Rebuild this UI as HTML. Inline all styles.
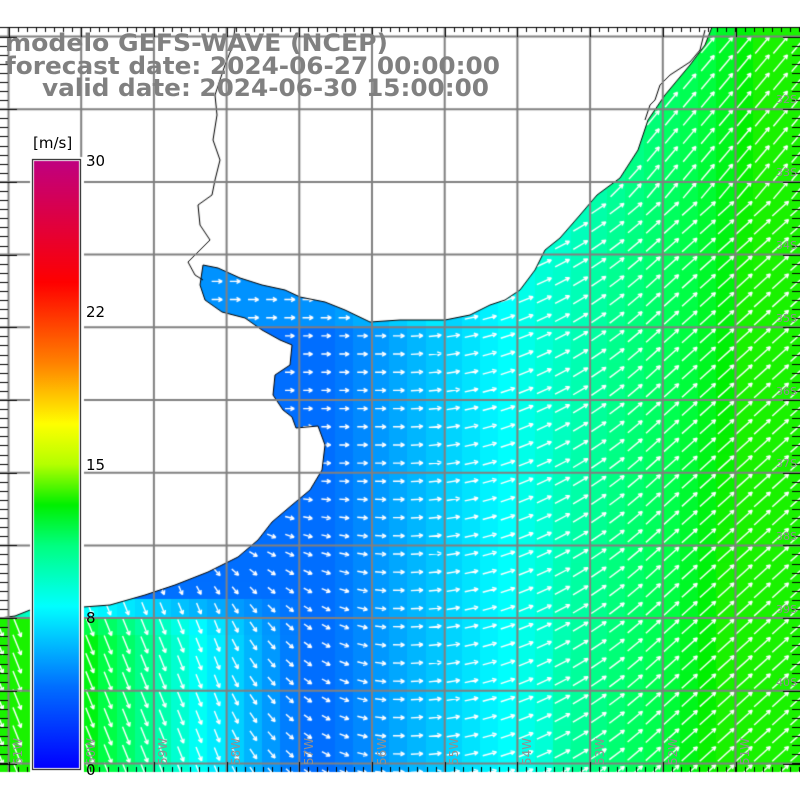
<!DOCTYPE html>
<html><head><meta charset="utf-8"><style>
html,body{margin:0;padding:0;background:#fff;width:800px;height:800px;overflow:hidden}
#c{position:absolute;left:0;top:0}
svg{position:absolute;left:0;top:0}
</style></head><body>
<canvas id="c" width="800" height="800"></canvas>
<svg width="800" height="800" xmlns="http://www.w3.org/2000/svg">
<g font-family="DejaVu Sans, Liberation Sans, sans-serif" font-weight="bold" fill="#808080" font-size="24">
<text x="5" y="51" textLength="383" lengthAdjust="spacingAndGlyphs">modelo GEFS-WAVE (NCEP)</text>
<text x="5" y="74" textLength="495" lengthAdjust="spacingAndGlyphs">forecast date: 2024-06-27 00:00:00</text>
<text x="42" y="96" textLength="447" lengthAdjust="spacingAndGlyphs">valid date: 2024-06-30 15:00:00</text>
</g>
<g font-family="DejaVu Sans, Liberation Sans, sans-serif" font-size="15" fill="#000">
<text x="33" y="148">[m/s]</text>
<text x="86" y="166">30</text>
<text x="86" y="317">22</text>
<text x="86" y="470">15</text>
<text x="86" y="623">8</text>
<text x="86" y="775">0</text>
</g>
<g font-family="DejaVu Sans, sans-serif" font-size="11" fill="#909090">
<text x="776" y="103">32S</text><text x="776" y="176">33S</text><text x="776" y="249">34S</text>
<text x="776" y="322">35S</text><text x="776" y="395">36S</text><text x="776" y="467">37S</text>
<text x="776" y="540">38S</text><text x="776" y="613">39S</text><text x="776" y="686">40S</text>
</g>
<g font-family="DejaVu Sans, sans-serif" font-size="12" fill="#909090">
<text transform="translate(22,765) rotate(-90)">61W</text>
<text transform="translate(95,765) rotate(-90)">60W</text>
<text transform="translate(167,765) rotate(-90)">59W</text>
<text transform="translate(240,765) rotate(-90)">58W</text>
<text transform="translate(313,765) rotate(-90)">57W</text>
<text transform="translate(386,765) rotate(-90)">56W</text>
<text transform="translate(458,765) rotate(-90)">55W</text>
<text transform="translate(531,765) rotate(-90)">54W</text>
<text transform="translate(604,765) rotate(-90)">53W</text>
<text transform="translate(677,765) rotate(-90)">52W</text>
<text transform="translate(749,765) rotate(-90)">51W</text>
</g>
</svg>
<script>
var c=document.getElementById('c'),g=c.getContext('2d');
var T=27,B=772;
function cl(v,a,b){return Math.max(a,Math.min(b,v));}
var stops=[[0,[0,0,255]],[4,[0,110,255]],[8,[0,255,255]],[10,[0,255,160]],[12,[0,255,70]],[13,[0,240,0]],[15,[170,255,0]],[17,[255,255,0]],[20,[255,130,0]],[24,[255,0,0]],[30,[192,0,128]]];
var bar=[[0,[0,0,255]],[4,[0,110,255]],[8,[0,255,255]],[11,[0,255,128]],[13,[0,240,0]],[15,[180,255,0]],[17,[255,255,0]],[20,[255,130,0]],[24,[255,0,0]],[30,[192,0,128]]];
function cmap(s){s=cl(s,0,30);for(var i=0;i<stops.length-1;i++){var a=stops[i],b=stops[i+1];if(s<=b[0]){var t=(s-a[0])/(b[0]-a[0]);return 'rgb('+[0,1,2].map(function(k){return Math.round(a[1][k]+(b[1][k]-a[1][k])*t)}).join(',')+')';}}return 'rgb(192,0,128)';}
function speed(x,y){var s=4+Math.max(0,x-330)/44;
 if(y>590){s+=Math.max(0,300-x)/24*cl((y-590)/40,0,1);}
 if(y<330&&x<450) s+=1;
 s+= (x>560? (y-400)*0.0015:0);
 return cl(s,2,13.3);}
function ang(x,y){var a;
 if(x>=400)a=Math.min(42,(x-400)*0.17);else{a=-(400-x)*0.38*cl((y-470)/150,0,1);a=Math.max(a,-68);}
 if(y<200&&x>600)a+=8;return a*Math.PI/180;}
var cs=72.7/4,x0=8-cs,y0=36-cs;
for(var cy=y0;cy<B;cy+=cs)for(var cx=x0;cx<800;cx+=cs){g.fillStyle=cmap(speed(cx+cs/2,cy+cs/2));g.fillRect(Math.floor(cx),Math.floor(cy),Math.ceil(cs)+1,Math.ceil(cs)+1);}
var land=[[0,T],[712,T],[705,45],[690,65],[665,95],[648,120],[638,150],[620,178],[597,195],[580,215],[560,238],[545,250],[535,270],[520,290],[505,300],[490,305],[470,315],[445,320],[400,320],[370,322],[345,310],[325,302],[300,297],[285,290],[262,285],[240,278],[218,268],[203,265],[200,285],[205,300],[222,312],[245,318],[262,330],[280,340],[292,345],[290,365],[275,375],[273,395],[283,410],[292,417],[296,428],[318,426],[325,445],[322,470],[310,490],[292,505],[272,522],[258,540],[238,557],[208,572],[175,585],[145,595],[110,605],[70,608],[30,610],[15,616],[0,618]];
g.fillStyle='#fff';g.beginPath();land.forEach(function(p,i){i?g.lineTo(p[0],p[1]):g.moveTo(p[0],p[1])});g.closePath();g.fill();
g.strokeStyle='#fff';g.lineWidth=1.4;
function inLand(x,y){var ins=false;for(var i=0,j=land.length-1;i<land.length;j=i++){var xi=land[i][0],yi=land[i][1],xj=land[j][0],yj=land[j][1];if(((yi>y)!=(yj>y))&&(x<(xj-xi)*(y-yi)/(yj-yi)+xi))ins=!ins;}return ins;}
for(var cy=y0;cy<B;cy+=cs)for(var cx=x0;cx<800;cx+=cs){var mx=cx+cs/2,my=cy+cs/2;if(my<T+3||inLand(mx,my))continue;
 var s=speed(mx,my),a=ang(mx,my),L=4+s*1.35,dx=Math.cos(a),dy=-Math.sin(a);
 var x1=mx-dx*L/2,y1=my-dy*L/2,x2=mx+dx*L/2,y2=my+dy*L/2,h=4.5;
 g.beginPath();g.moveTo(x1,y1);g.lineTo(x2,y2);
 var a1=a+Math.PI*0.85,a2=a-Math.PI*0.85;
 g.moveTo(x2,y2);g.lineTo(x2+Math.cos(a1)*h,y2-Math.sin(a1)*h);
 g.moveTo(x2,y2);g.lineTo(x2+Math.cos(a2)*h,y2-Math.sin(a2)*h);g.stroke();}
g.strokeStyle='#000';g.lineWidth=1;g.beginPath();land.slice(1).forEach(function(p,i){i?g.lineTo(p[0],p[1]):g.moveTo(p[0],p[1])});g.stroke();
var river=[[235,T],[233,45],[225,65],[215,95],[217,115],[213,140],[220,160],[215,180],[212,195],[198,205],[200,225],[210,240],[200,250],[188,262],[195,275],[203,280]];
g.beginPath();river.forEach(function(p,i){i?g.lineTo(p[0],p[1]):g.moveTo(p[0],p[1])});g.stroke();
g.beginPath();[[705,30],[700,50],[690,62],[670,75],[660,85],[655,100],[650,105],[645,120]].forEach(function(p,i){i?g.lineTo(p[0],p[1]):g.moveTo(p[0],p[1])});g.stroke();
g.strokeStyle='#808080';g.lineWidth=2;
for(var i=0;i<11;i++){var x=8.5+i*72.7;g.beginPath();g.moveTo(x,T);g.lineTo(x,B);g.stroke();}
for(var i=0;i<11;i++){var y=36.5+i*72.7;g.beginPath();g.moveTo(0,y);g.lineTo(800,y);g.stroke();}
g.fillStyle='#fff';g.fillRect(0,B,800,800-B);g.fillRect(0,0,800,T);
g.strokeStyle='#000';g.lineWidth=1;g.beginPath();g.moveTo(0,T+0.5);g.lineTo(800,T+0.5);g.stroke();
g.beginPath();
for(var y=36.5;y<B;y+=72.7/8){g.moveTo(0,Math.round(y)+.5);g.lineTo(8,Math.round(y)+.5);g.moveTo(792,Math.round(y)+.5);g.lineTo(800,Math.round(y)+.5);}
for(var i=0;i<11;i++){var y=Math.round(36.5+i*72.7)+.5;g.moveTo(0,y);g.lineTo(17,y);g.moveTo(783,y);g.lineTo(800,y);}
for(var x=8.5;x<800;x+=72.7/8){var xx=Math.round(x)+.5;g.moveTo(xx,B-5);g.lineTo(xx,B);g.moveTo(xx,T);g.lineTo(xx,T+5);}
for(var i=0;i<11;i++){var xx=Math.round(8.5+i*72.7)+.5;g.moveTo(xx,B-10);g.lineTo(xx,B);g.moveTo(xx,T);g.lineTo(xx,T+10);}
g.stroke();
g.fillStyle='#fff';g.fillRect(30,157,54,615);
var gr=g.createLinearGradient(0,768,0,161);
bar.forEach(function(s){gr.addColorStop(s[0]/30,'rgb('+s[1].join(',')+')');});
g.fillStyle=gr;g.fillRect(34,161,45,607);
g.strokeStyle='#000';g.strokeRect(32.5,159.5,48,610);
</script>
</body></html>
